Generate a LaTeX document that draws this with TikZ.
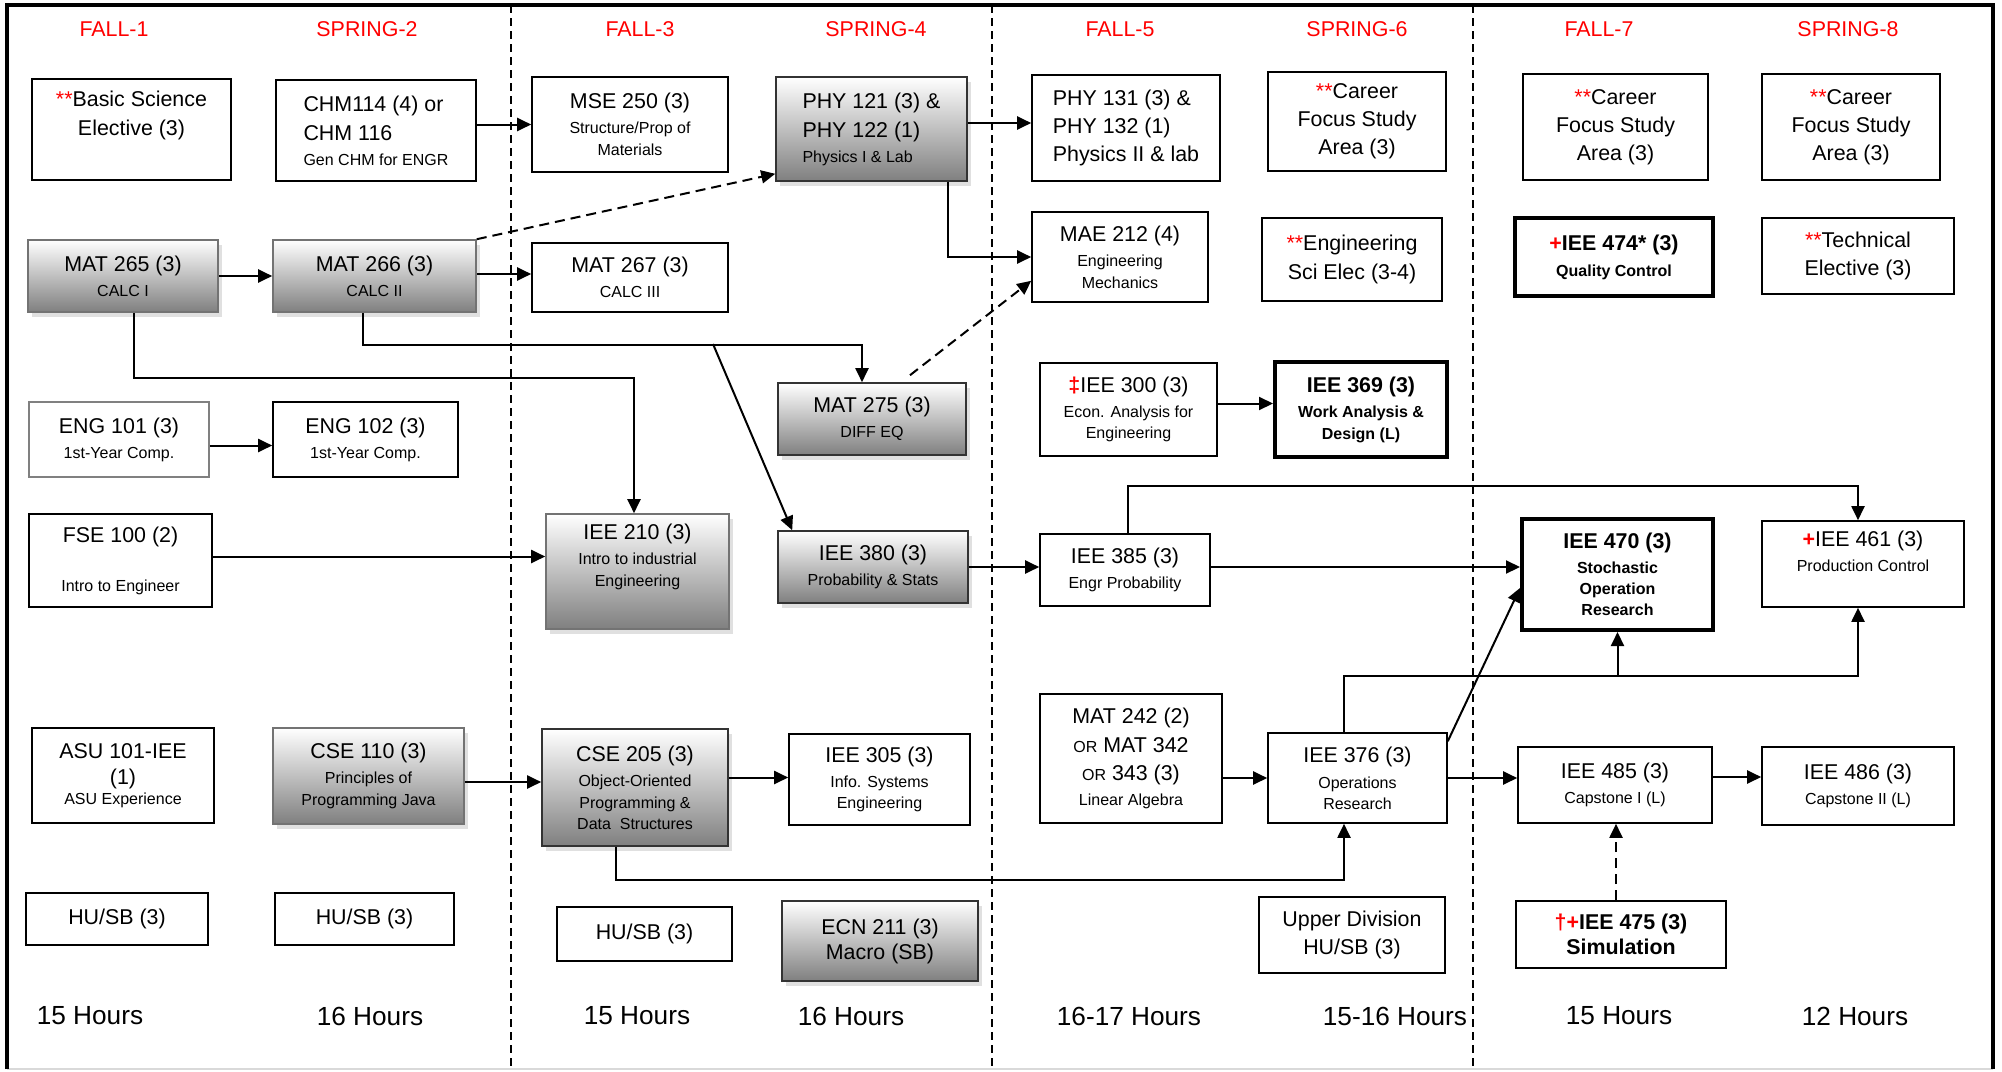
\documentclass[tikz,border=0pt]{standalone}
\usepackage{fontspec}
\setmainfont{Liberation Sans}
\usetikzlibrary{arrows.meta,positioning,calc,shadows}
\newcommand{\smf}{\fontsize{8}{10}\selectfont}
\newcommand{\redst}{\textcolor{red}{**}}
\newcommand{\redpl}{\textcolor{red}{\textbf{+}}}
\newcommand{\redddag}{\textcolor{red}{\textbf{‡}}}
\newcommand{\reddag}{\textcolor{red}{\textbf{†}}}

\begin{document}
\begin{tikzpicture}[x=0.5pt, y=-0.5pt,
    box/.style={draw, line width=0.8pt, fill=white, align=center, inner sep=2pt, font=\fontsize{10.7}{12.5}\selectfont},
    gbox/.style={box, draw=black!80, top color=white, bottom color=black!50, drop shadow={shadow xshift=2pt, shadow yshift=-2.5pt, fill=black!12, opacity=1}},
    hbox/.style={box, line width=2pt},
    sz/.style 2 args={minimum width=#1, minimum height=#2},
    hdr/.style={text=red, font=\fontsize{10.7}{13}\selectfont},
    hrs/.style={font=\fontsize{13.1}{15}\selectfont},
    arr/.style={-{Triangle[length=7pt, width=6.5pt]}, line width=1pt},
    darr/.style={arr, dash pattern=on 5pt off 3pt},
    sep/.style={line width=0.6pt, dash pattern=on 4pt off 2.5pt}
]
\useasboundingbox (0,0) rectangle (2002,1071);

% frame and semester separators
\draw[black!15, line width=0.8pt] (7,1069) -- (1993,1069);
\draw[line width=2pt] (7,1069) -- (7,5) -- (1993,5) -- (1993,1069);
\draw[sep] (511,5) -- (511,1069);
\draw[sep] (992,5) -- (992,1069);
\draw[sep] (1473,5) -- (1473,1069);

% semester headers
\node[hdr] (f1) at (114,29) {FALL-1};
\node[hdr] (s2) at (367,29) {SPRING-2};
\node[hdr] (f3) at (640,29) {FALL-3};
\node[hdr] (s4) at (876,29) {SPRING-4};
\node[hdr] (f5) at (1120,29) {FALL-5};
\node[hdr] (s6) at (1357,29) {SPRING-6};
\node[hdr] (f7) at (1599,29) {FALL-7};
\node[hdr] (s8) at (1848,29) {SPRING-8};

% year 1
\node[box, sz={99.5pt}{50.5pt}] (bse) at (131.5,129.5) {\redst Basic Science\\[2pt]Elective (3)\\\strut};
\node[box, sz={100pt}{50.5pt}, align=left] (chm) at (376,130.5) {CHM114 (4) or\\[2pt]CHM 116\\{\smf Gen CHM for ENGR}};
\node[gbox, draw=black!55, sz={95pt}{36pt}] (mat265) at (123,276) {MAT 265 (3)\\{\smf CALC I}};
\node[gbox, draw=black!55, sz={101.5pt}{36pt}] (mat266) at (374.5,276) {MAT 266 (3)\\{\smf CALC II}};
\node[box, draw=black!50, sz={90pt}{37.5pt}] (eng101) at (119,439.5) {ENG 101 (3)\\{\smf 1st-Year Comp.}};
\node[box, sz={92.5pt}{37.5pt}] (eng102) at (365.5,439.5) {ENG 102 (3)\\{\smf 1st-Year Comp.}};
\node[box, sz={91.5pt}{46.5pt}] (fse) at (120.5,560.5) {FSE 100 (2)\\[12pt]{\smf Intro to Engineer}};
\node[box, sz={91pt}{47.5pt}] (asu) at (123,775.5) {ASU 101-IEE\\[0.5pt](1)\\[-2.5pt]{\smf ASU Experience}};
\node[gbox, draw=black!55, sz={95.5pt}{48pt}] (cse110) at (368.5,776) {CSE 110 (3)\\{\smf Principles of}\\[-1.5pt]{\smf Programming Java}};
\node[box, sz={91pt}{26pt}] (husb1) at (117,919) {HU/SB (3)};
\node[box, sz={89.5pt}{26pt}] (husb2) at (364.5,919) {HU/SB (3)};

% year 2
\node[box, sz={98pt}{47.5pt}] (mse) at (630,124.5) {MSE 250 (3)\\{\smf Structure/Prop of}\\[-1.5pt]{\smf Materials}};
\node[gbox, sz={95.5pt}{52pt}, align=left] (phy121) at (871.5,129) {PHY 121 (3) \&\\[2pt]PHY 122 (1)\\{\smf Physics I \& Lab}};
\node[box, sz={98pt}{34.5pt}] (mat267) at (630,277.5) {MAT 267 (3)\\{\smf CALC III}};
\node[gbox, sz={94pt}{36pt}] (mat275) at (872,419) {MAT 275 (3)\\{\smf DIFF EQ}};
\node[gbox, draw=black!55, sz={91.5pt}{57.5pt}] (iee210) at (637.5,571.5) {IEE 210 (3)\\{\smf Intro to industrial}\\[-1.5pt]{\smf Engineering}\\\strut};
\node[gbox, sz={95pt}{36pt}] (iee380) at (873,567) {IEE 380 (3)\\{\smf Probability \& Stats}};
\node[gbox, sz={93pt}{58.5pt}] (cse205) at (635,787.5) {CSE 205 (3)\\{\smf Object-Oriented}\\[-1.5pt]{\smf Programming \&}\\[-2pt]{\smf Data\ \ Structures}};
\node[box, sz={90.5pt}{45.5pt}] (iee305) at (879.5,779.5) {IEE 305 (3)\\{\smf Info. Systems}\\[-2pt]{\smf Engineering}};
\node[box, sz={87.5pt}{27pt}] (husb3) at (644.5,934) {HU/SB (3)};
\node[gbox, sz={98pt}{40pt}] (ecn) at (880,941) {ECN 211 (3)\\Macro (SB)};

% year 3
\node[box, sz={94pt}{53pt}, align=left] (phy131) at (1126,128) {PHY 131 (3) \&\\[1.7pt]PHY 132 (1)\\[1.7pt]Physics II \& lab};
\node[box, sz={89pt}{49.5pt}] (car6) at (1357,121.5) {\redst Career\\[1.5pt]Focus Study\\[1.5pt]Area (3)};
\node[box, sz={88pt}{45pt}] (mae) at (1120,257) {MAE 212 (4)\\{\smf Engineering}\\[-1.5pt]{\smf Mechanics}};
\node[box, sz={90pt}{41.5pt}] (esci) at (1352,259.5) {\redst Engineering\\[1.8pt]Sci Elec (3-4)};
\node[box, sz={88.5pt}{46.5pt}] (iee300) at (1128.5,409.5) {\redddag IEE 300 (3)\\{\smf Econ. Analysis for}\\[-2pt]{\smf Engineering}};
\node[hbox, sz={86pt}{47.5pt}] (iee369) at (1361,409.5) {\textbf{IEE 369 (3)}\\{\smf\bfseries Work Analysis \&}\\[-1.5pt]{\smf\bfseries Design (L)}};
\node[box, sz={85pt}{36pt}] (iee385) at (1125,570) {IEE 385 (3)\\{\smf Engr Probability}};
\node[box, sz={91pt}{64.5pt}] (mat242) at (1131,758.5) {MAT 242 (2)\\[2pt]{\smf OR} MAT 342\\[1.7pt]{\smf OR} 343 (3)\\{\smf Linear Algebra}};
\node[box, sz={89.5pt}{45pt}] (iee376) at (1357.5,778) {IEE 376 (3)\\[0.5pt]{\smf Operations}\\[-2pt]{\smf Research}};
\node[box, sz={93pt}{38pt}] (upper) at (1352,935) {Upper Division\\[1.7pt]HU/SB (3)};

% year 4
\node[box, sz={92.5pt}{53pt}] (car7) at (1615.5,127) {\redst Career\\[1.5pt]Focus Study\\[1.5pt]Area (3)};
\node[box, sz={89pt}{53pt}] (car8) at (1851,127) {\redst Career\\[1.5pt]Focus Study\\[1.5pt]Area (3)};
\node[hbox, sz={99pt}{39pt}] (iee474) at (1614,257) {\textbf{\redpl IEE 474* (3)}\\[0.5pt]{\smf\bfseries Quality Control}};
\node[box, sz={96pt}{38pt}] (tech) at (1858,256) {\redst Technical\\[1.8pt]Elective (3)};
\node[hbox, sz={95.5pt}{55.5pt}] (iee470) at (1617.5,574.5) {\textbf{IEE 470 (3)}\\{\smf\bfseries Stochastic}\\[-2pt]{\smf\bfseries Operation}\\[-2pt]{\smf\bfseries Research}};
\node[box, sz={101pt}{43pt}] (iee461) at (1863,564) {\redpl IEE 461 (3)\\{\smf Production Control}\\[-3pt]\strut};
\node[box, sz={97pt}{38pt}] (iee485) at (1615,785) {IEE 485 (3)\\{\smf Capstone I (L)}};
\node[box, sz={96pt}{39pt}] (iee486) at (1858,786) {IEE 486 (3)\\{\smf Capstone II\ (L)}};
\node[box, sz={105pt}{33.5pt}] (iee475) at (1621,934.5) {\reddag\redpl\textbf{IEE 475 (3)}\\\textbf{Simulation}};

% credit hours
\node[hrs] (t1) at (90,1016) {15 Hours};
\node[hrs] (t2) at (370,1016) {16 Hours};
\node[hrs] (t3) at (637,1016) {15 Hours};
\node[hrs] (t4) at (851,1016) {16 Hours};
\node[hrs] (t5) at (1129,1016) {16-17 Hours};
\node[hrs] (t6) at (1395,1016) {15-16 Hours};
\node[hrs] (t7) at (1619,1016) {15 Hours};
\node[hrs] (t8) at (1855,1016) {12 Hours};

% connectors
\coordinate (fork) at (713,344);
\draw[arr] (mat265) -- (mat266);
\draw[arr] (chm.east |- mse.west) -- (mse.west);
\draw[arr] ([yshift=1pt]mat266.east) -- ([yshift=1pt]mat266.east -| mat267.west);
\draw[darr] (mat266.north east) -- ([yshift=4pt]phy121.south west);
\draw[arr] ([xshift=5.5pt]mat265.south) -- ++(0,65) -| ([xshift=-1.75pt]iee210.north);
\draw[arr] ([xshift=-5.75pt]mat266.south) -- ++(0,32) -| ([xshift=-5pt]mat275.north);
\draw[arr] (fork) -- ([xshift=7.5pt]iee380.north west);
\draw[darr] ([xshift=19pt,yshift=3.5pt]mat275.north) -- ([yshift=11pt]mae.south west);
\draw[arr] ([yshift=3pt]phy121.east) -- ([yshift=3pt]phy121.east -| phy131.west);
\draw[arr] ([xshift=-10pt]phy121.south east) |- (mae.west);
\draw[arr] ([yshift=-3pt]eng101.east) -- ([yshift=-3pt]eng101.east -| eng102.west);
\draw[arr] ([yshift=2pt]fse.east) -- ([yshift=2pt]fse.east -| iee210.west);
\draw[arr] ([yshift=-3pt]cse110.east) -- ([yshift=-3pt]cse110.east -| cse205.west);
\draw[arr] ([yshift=5pt]cse205.east) -- ([yshift=5pt]cse205.east -| iee305.west);
\draw[arr] ([xshift=-9.5pt]cse205.south) -- ++(0,33) -| ([xshift=-6.75pt]iee376.south);
\draw[arr] (iee380.east) -- (iee380.east -| iee385.west);
\draw[arr] ([yshift=3pt]iee300.east) -- ([yshift=3pt]iee300.east -| iee369.west);
\draw[arr] ([yshift=1.5pt]iee385.east) -- ([yshift=1.5pt]iee385.east -| iee470.west);
\draw[arr] ([xshift=1.5pt]iee385.north) -- ++(0,-47) -| ([xshift=-2.5pt]iee461.north);
\draw[arr] (mat242.east |- iee376.west) -- (iee376.west);
\draw[arr] ([yshift=-4.5pt]iee376.north east) -- ([yshift=-6.75pt]iee470.west);
\draw[arr] ([xshift=-7pt]iee376.north) -- ++(0,-56) coordinate (c376) -| ([xshift=-2.5pt]iee461.south);
\draw[arr] (c376 -| iee470.south) -- (iee470.south);
\draw[arr] (iee376.east) -- (iee376.east -| iee485.west);
\draw[arr] ([yshift=4pt]iee485.east) -- ([yshift=4pt]iee485.east -| iee486.west);
\draw[darr] ([xshift=-2.5pt]iee475.north) -- ([xshift=-2.5pt]iee475.north |- iee485.south);
\end{tikzpicture}
\end{document}
